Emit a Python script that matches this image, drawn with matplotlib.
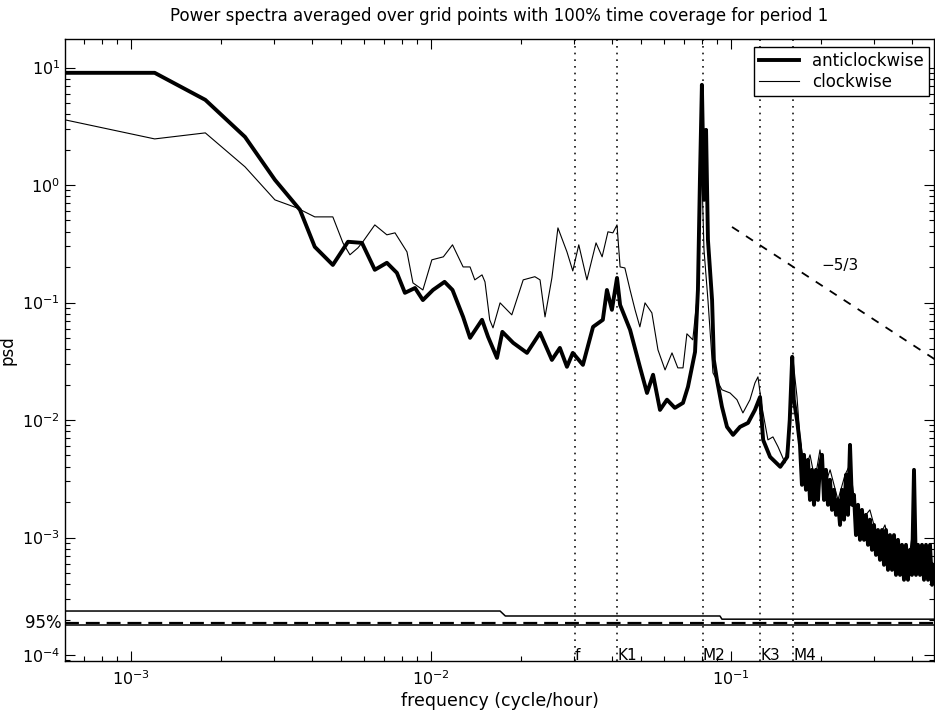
import numpy as np
import matplotlib
matplotlib.use('Agg')
import matplotlib.pyplot as plt
from matplotlib import ticker

# anticlockwise spectrum (thick line)
freq_acw = [6.03e-4, 1.20e-3, 1.77e-3, 2.40e-3, 3.02e-3, 3.66e-3, 4.10e-3, 4.71e-3, 5.29e-3, 5.89e-3,
            6.50e-3, 7.13e-3, 7.70e-3, 8.19e-3, 8.85e-3, 9.40e-3, 1.016e-2, 1.11e-2, 1.18e-2, 1.28e-2,
            1.35e-2, 1.48e-2, 1.55e-2, 1.66e-2, 1.73e-2, 1.88e-2, 2.09e-2, 2.31e-2, 2.53e-2, 2.69e-2,
            2.84e-2, 2.97e-2, 3.21e-2, 3.47e-2, 3.74e-2, 3.86e-2, 4.01e-2, 4.17e-2, 4.27e-2, 4.61e-2,
            4.97e-2, 5.25e-2, 5.50e-2, 5.80e-2, 6.12e-2, 6.50e-2, 6.92e-2, 7.19e-2, 7.59e-2, 7.76e-2,
            7.88e-2, 8.00e-2, 8.13e-2, 8.26e-2, 8.38e-2, 8.65e-2, 8.77e-2, 8.98e-2, 9.33e-2, 9.70e-2,
            0.1016, 0.1072, 0.1140, 0.1202, 0.125, 0.128, 0.135, 0.146, 0.154, 0.157,
            0.160, 0.162, 0.166,
            0.1698, 0.1724, 0.1751, 0.1778, 0.1806, 0.1834, 0.1862, 0.1891, 0.1920, 0.1950,
            0.1980, 0.2011, 0.2042, 0.2073, 0.2105, 0.2138, 0.2171, 0.2205, 0.2239, 0.2273,
            0.2309, 0.2344, 0.2381, 0.2418, 0.2455, 0.2493, 0.2532, 0.2570, 0.2610, 0.2651,
            0.2692, 0.2733, 0.2776, 0.2818, 0.2862, 0.2906, 0.2951, 0.2997, 0.3043, 0.3090,
            0.3138, 0.3187, 0.3236, 0.3286, 0.3337, 0.3388, 0.3441, 0.3494, 0.3548, 0.3603,
            0.3659, 0.3715, 0.3773, 0.3831, 0.3890, 0.3951, 0.4012, 0.4074, 0.4137, 0.4201,
            0.4266, 0.4332, 0.4399, 0.4467, 0.4537, 0.4607, 0.4678, 0.4751]
psd_acw = [9.02, 9.02, 5.31, 2.57, 1.107, 0.615, 0.298, 0.209, 0.329, 0.322,
           0.190, 0.218, 0.179, 0.121, 0.133, 0.105, 0.128, 0.150, 0.128, 0.0755,
           0.0501, 0.0713, 0.0511, 0.0338, 0.0563, 0.0454, 0.0373, 0.0552, 0.0325, 0.0411,
           0.0284, 0.0373, 0.0295, 0.0621, 0.0713, 0.128, 0.0867, 0.162, 0.0955, 0.0586,
           0.0284, 0.0170, 0.0243, 0.0122, 0.0149, 0.0127, 0.0140, 0.0192, 0.0380, 0.128,
           1.107, 7.13, 0.748, 2.95, 0.342, 0.105, 0.0325, 0.0220, 0.0130, 8.75e-3,
           7.48e-3, 8.75e-3, 9.46e-3, 0.0122, 0.0157, 6.78e-3, 4.86e-3, 4.00e-3, 4.86e-3, 0.0100,
           0.0345, 0.0149, 0.0100,
           6.15e-3, 2.81e-3, 5.06e-3, 2.55e-3, 4.59e-3, 2.09e-3, 3.77e-3, 1.90e-3, 3.77e-3, 2.09e-3,
           4.16e-3, 5.06e-3, 2.09e-3, 3.77e-3, 1.90e-3, 3.10e-3, 1.72e-3, 2.55e-3, 1.56e-3, 2.09e-3,
           1.28e-3, 2.55e-3, 1.42e-3, 3.42e-3, 1.56e-3, 6.15e-3, 1.90e-3, 2.31e-3, 1.05e-3, 1.90e-3,
           9.56e-4, 1.72e-3, 9.56e-4, 1.56e-3, 8.67e-4, 1.42e-3, 7.86e-4, 1.28e-3, 7.12e-4, 1.16e-3,
           6.46e-4, 1.16e-3, 5.86e-4, 1.16e-3, 5.31e-4, 1.05e-3, 5.31e-4, 1.05e-3, 4.81e-4, 9.56e-4,
           4.81e-4, 8.67e-4, 4.37e-4, 8.67e-4, 4.37e-4, 7.86e-4, 4.81e-4, 3.77e-3, 4.81e-4, 8.67e-4,
           4.81e-4, 8.67e-4, 4.37e-4, 8.67e-4, 4.37e-4, 8.67e-4, 3.96e-4, 5.86e-4]

# clockwise spectrum (thin line)
freq_cw = [6.03e-4, 1.20e-3, 1.77e-3, 2.40e-3, 3.02e-3, 3.57e-3, 4.10e-3, 4.71e-3, 5.09e-3, 5.37e-3,
           5.71e-3, 5.93e-3, 6.50e-3, 7.13e-3, 7.59e-3, 8.32e-3, 8.71e-3, 9.40e-3, 1.007e-2, 1.10e-2,
           1.18e-2, 1.28e-2, 1.35e-2, 1.40e-2, 1.48e-2, 1.514e-2, 1.57e-2, 1.61e-2, 1.70e-2, 1.86e-2,
           2.03e-2, 2.22e-2, 2.31e-2, 2.40e-2, 2.53e-2, 2.65e-2, 2.84e-2, 2.97e-2, 3.11e-2, 3.31e-2,
           3.55e-2, 3.72e-2, 3.89e-2, 4.04e-2, 4.17e-2, 4.27e-2, 4.43e-2, 4.61e-2, 4.79e-2, 4.97e-2,
           5.17e-2, 5.45e-2, 5.71e-2, 6.03e-2, 6.36e-2, 6.65e-2, 6.92e-2, 7.13e-2, 7.46e-2, 7.76e-2,
           7.94e-2, 8.13e-2, 8.38e-2, 8.71e-2, 9.33e-2, 9.93e-2, 0.1047, 0.1096, 0.1157, 0.1202,
           0.1230, 0.1268, 0.1328, 0.1380, 0.1435, 0.1514, 0.157, 0.161, 0.166, 0.170,
           0.1766, 0.1834, 0.1905, 0.198, 0.2057, 0.214, 0.2273, 0.240, 0.249, 0.259,
           0.2735, 0.2904, 0.309, 0.326, 0.344, 0.366, 0.389, 0.404, 0.4266, 0.450,
           0.475]
psd_cw = [3.59, 2.47, 2.78, 1.43, 0.748, 0.640, 0.536, 0.536, 0.322, 0.255,
          0.292, 0.329, 0.458, 0.377, 0.392, 0.270, 0.147, 0.128, 0.231, 0.245,
          0.310, 0.201, 0.201, 0.156, 0.172, 0.150, 0.0713, 0.0609, 0.0994, 0.0786,
          0.156, 0.166, 0.156, 0.0755, 0.162, 0.432, 0.270, 0.186, 0.310, 0.156,
          0.322, 0.245, 0.400, 0.392, 0.458, 0.201, 0.197, 0.128, 0.0867, 0.0621,
          0.0994, 0.0817, 0.0396, 0.0267, 0.0373, 0.0278, 0.0278, 0.0542, 0.0482, 0.128,
          2.43, 0.281, 0.105, 0.0252, 0.0181, 0.0170, 0.0149, 0.0115, 0.0149, 0.0207,
          0.0233, 0.0130, 6.78e-3, 7.19e-3, 5.92e-3, 4.32e-3, 8.26e-3, 0.0325, 0.0157, 6.78e-3,
          3.77e-3, 5.06e-3, 3.10e-3, 5.57e-3, 2.81e-3, 3.77e-3, 2.09e-3, 3.42e-3, 4.16e-3, 1.90e-3,
          1.42e-3, 1.72e-3, 9.55e-4, 1.28e-3, 7.13e-4, 8.67e-4, 5.86e-4, 1.16e-3, 6.46e-4, 7.85e-4,
          5.31e-4]

# 95% confidence levels
conf_freq = [6.03e-4, 0.0170, 0.0177, 0.0919, 0.0933, 0.475]
conf_upper = [2.37e-4, 2.37e-4, 2.15e-4, 2.15e-4, 2.02e-4, 2.02e-4]
conf_dashed = 1.87e-4
conf_lower = 1.79e-4

# tidal / inertial frequencies (cycle/hour)
tide_freq = [0.0301, 0.0418, 0.0805, 0.1251, 0.1610]
tide_name = ['f', 'K1', 'M2', 'K3', 'M4']

# -5/3 reference slope
slope_f0, slope_p0, slope = 0.1008, 0.44, -5 / 3

plt.rcParams['font.family'] = 'DejaVu Sans'
plt.rcParams['font.size'] = 11.5
plt.rcParams['lines.scale_dashes'] = False
plt.rcParams['xtick.direction'] = 'in'
plt.rcParams['ytick.direction'] = 'in'
plt.rcParams['xtick.top'] = True
plt.rcParams['ytick.right'] = True

fig = plt.figure(figsize=(9.35, 7.16), dpi=100)
ax = fig.add_axes([65 / 935, 55 / 716, 869 / 935, 622 / 716])

ax.loglog(freq_acw, psd_acw, color='k', lw=2.8, label='anticlockwise', zorder=3)
ax.loglog(freq_cw, psd_cw, color='k', lw=0.8, label='clockwise', zorder=3)

ax.plot(conf_freq, conf_upper, color='k', lw=1.1)
ax.axhline(conf_dashed, color='k', lw=1.6, linestyle=(0, (10, 5)))
ax.axhline(conf_lower, color='k', lw=1.1)

sf = np.array([slope_f0, 0.5])
ax.plot(sf, slope_p0 * (sf / slope_f0) ** slope, color='k', lw=1.3, linestyle=(0, (6, 6)))
ax.text(0.2, 0.205, '\u22125/3', ha='left', va='center', fontsize=11)

for fr, nm in zip(tide_freq, tide_name):
    ax.axvline(fr, color='k', lw=1.1, linestyle=(0, (1.2, 3.6)), zorder=1)
    ax.text(fr, 1e-4, nm, ha='left', va='center', fontsize=11)

ax.set_xlim(6.03e-4, 0.475)
ax.set_ylim(8.9e-5, 17.5)
ax.tick_params(which='major', length=7, width=0.8, labelsize=11.5)
ax.tick_params(axis='x', which='major', pad=6)
ax.tick_params(which='minor', length=3.5, width=0.8)
ax.xaxis.set_minor_locator(ticker.LogLocator(base=10, subs=np.arange(2, 10), numticks=20))
ax.yaxis.set_minor_locator(ticker.LogLocator(base=10, subs=np.arange(2, 10), numticks=20))
for s in ax.spines.values():
    s.set_linewidth(1.0)

ax.text(-0.004, conf_dashed, '95%', transform=ax.get_yaxis_transform(),
        ha='right', va='center', fontsize=12)

ax.set_title('Power spectra averaged over grid points with 100% time coverage for period 1',
             fontsize=12, pad=13)
ax.set_xlabel('frequency (cycle/hour)', fontsize=12.5, labelpad=3)
ax.set_ylabel('psd', fontsize=12)

leg = ax.legend(loc='upper right', bbox_to_anchor=(0.994, 0.987), borderaxespad=0,
                fancybox=False, framealpha=1, edgecolor='k', fontsize=12,
                handlelength=2.4, handletextpad=0.8, labelspacing=0.15, borderpad=0.3)
leg.get_frame().set_linewidth(1.0)
leg.set_zorder(5)

fig.savefig('out.png', dpi=100, facecolor='white')
